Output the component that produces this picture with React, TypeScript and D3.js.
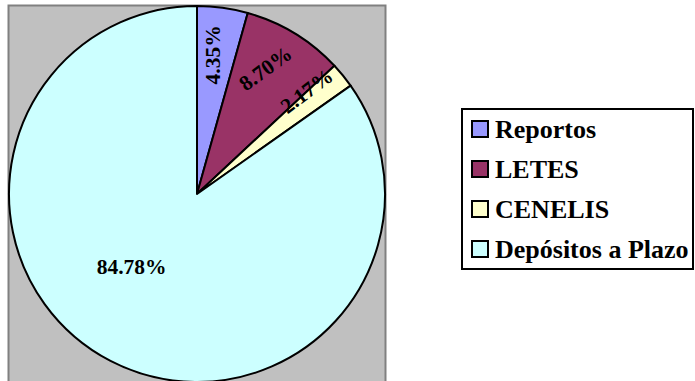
import React from "react";
import * as d3 from "d3";

// Portfolio composition by instrument
const categories = ["Reportos", "LETES", "CENELIS", "Depósitos a Plazo"];
const shares = [4.35, 8.7, 2.17, 84.78];
const sliceColors = ["#9999FF", "#993366", "#FFFFCC", "#CCFFFF"];
// label placement per slice: radial fraction, angle nudge (deg), text rotation (deg)
const labelRadius = [0.745, 0.76, 0.8, 0.52];
const labelAngleNudge = [-1.2, -2.6, -4, 14.6];
const labelRotation = [-90, -36, -37, 0];

const W = 695;
const H = 381;
const FONT = "'Liberation Serif', 'Times New Roman', Times, serif";

export default function App() {
  const cx = 197;
  const cy = 194;
  const r = 188;

  const pie = d3
    .pie<number>()
    .sort(null)
    .value((d) => d)
    .startAngle(0)
    .endAngle(2 * Math.PI);
  const arcs = pie(shares);
  const arc = d3.arc<d3.PieArcDatum<number>>().innerRadius(0).outerRadius(r);

  const legendX = 462;
  const legendY = 109;
  const rowStep = 40;

  return (
    <div style={{ position: "fixed", left: 0, top: 0, width: W, height: H, background: "#fff" }}>
      <svg width={W} height={H} style={{ display: "block" }}>
        <rect x={0} y={0} width={W} height={H} fill="#fff" />
        {/* plot area */}
        <rect x={8.5} y={5.5} width={377} height={390} fill="#C0C0C0" stroke="#808080" strokeWidth={2} />
        <g transform={`translate(${cx},${cy})`}>
          {arcs.map((a, i) => (
            <path key={categories[i]} d={arc(a) || ""} fill={sliceColors[i]} stroke="#000" strokeWidth={2} strokeLinejoin="round" />
          ))}
          {arcs.map((a, i) => {
            const mid = (a.startAngle + a.endAngle) / 2 + (labelAngleNudge[i] * Math.PI) / 180;
            const rr = r * labelRadius[i];
            const x = Math.sin(mid) * rr;
            const y = -Math.cos(mid) * rr;
            return (
              <text
                key={"l" + i}
                transform={`translate(${x},${y}) rotate(${labelRotation[i]})`}
                textAnchor="middle"
                dominantBaseline="central"
                fontFamily={FONT}
                fontWeight="bold"
                fontSize={21.5}
                fill="#000"
              >
                {shares[i].toFixed(2)}%
              </text>
            );
          })}
        </g>
        {/* legend */}
        <rect x={legendX} y={legendY} width={231} height={160} fill="#fff" stroke="#000" strokeWidth={2} />
        {categories.map((c, i) => {
          const base = 138 + i * rowStep;
          return (
            <g key={"lg" + i}>
              <rect x={472} y={base - 17} width={16} height={16} fill={sliceColors[i]} stroke="#000" strokeWidth={2} />
              <text x={495} y={base} fontFamily={FONT} fontWeight="bold" fontSize={26} fill="#000">
                {c}
              </text>
            </g>
          );
        })}
      </svg>
    </div>
  );
}
